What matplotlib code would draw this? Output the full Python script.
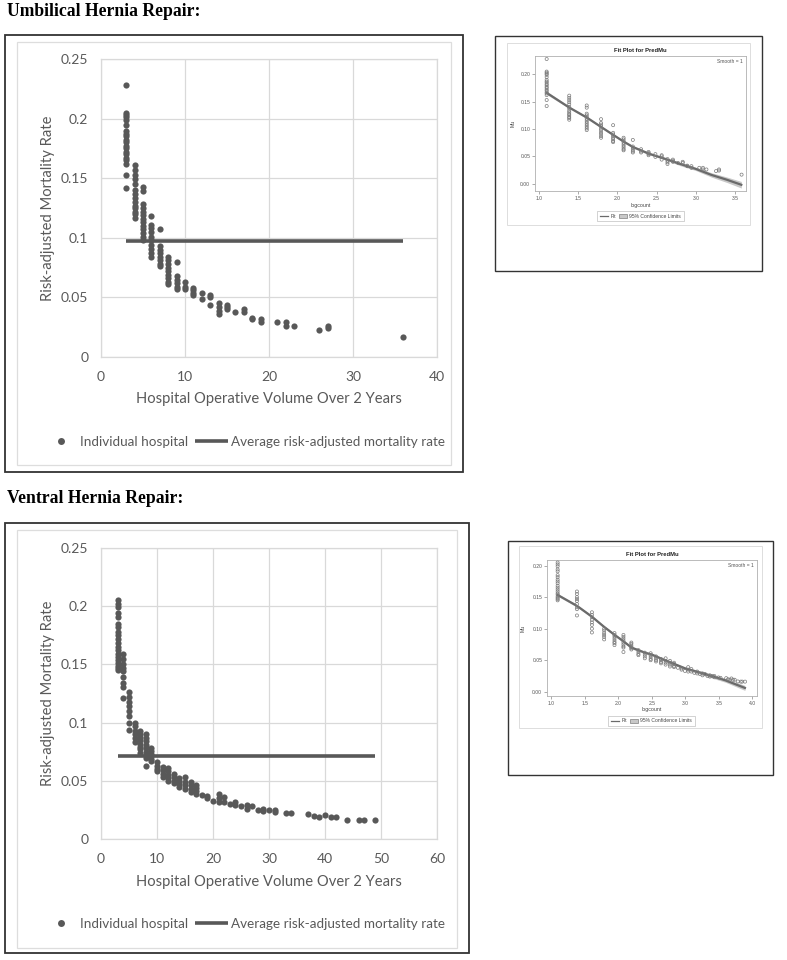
import numpy as np
import matplotlib
matplotlib.use("Agg")
import matplotlib.pyplot as plt
from matplotlib.patches import Rectangle, Patch
from matplotlib.lines import Line2D

W, H = 787, 960

# Umbilical hernia repair: hospital volume -> risk-adjusted mortality rates
umb_volumes = [3, 4, 5, 6, 7, 8, 9, 10, 11, 12, 13, 14, 15, 16, 17, 18, 19, 21, 22, 23, 26, 27, 36]
umb_rates = [
    [0.228, 0.205, 0.203, 0.201, 0.199, 0.195, 0.190, 0.187, 0.185, 0.182,
     0.180, 0.177, 0.175, 0.172, 0.170, 0.167, 0.165, 0.162, 0.153, 0.142],
    [0.161, 0.157, 0.153, 0.149, 0.145, 0.140, 0.137, 0.133, 0.130, 0.127, 0.125, 0.122, 0.120, 0.117],
    [0.143, 0.139, 0.128, 0.125, 0.122, 0.119, 0.116, 0.113, 0.110, 0.107, 0.104, 0.101, 0.098],
    [0.118, 0.111, 0.108, 0.105, 0.101, 0.098, 0.094, 0.091, 0.087, 0.084],
    [0.107, 0.093, 0.090, 0.087, 0.084, 0.081, 0.078, 0.076],
    [0.084, 0.081, 0.078, 0.075, 0.072, 0.069, 0.066, 0.063, 0.061],
    [0.080, 0.068, 0.065, 0.062, 0.059, 0.057],
    [0.063, 0.059, 0.057],
    [0.058, 0.056, 0.054, 0.052],
    [0.054, 0.049],
    [0.052, 0.050, 0.044],
    [0.045, 0.042, 0.039, 0.036],
    [0.044, 0.042, 0.040],
    [0.038],
    [0.040, 0.038],
    [0.033, 0.032],
    [0.032, 0.029],
    [0.029],
    [0.029, 0.026],
    [0.026],
    [0.023],
    [0.026, 0.024],
    [0.0165],
]
umb_avg = 0.097

# Ventral hernia repair
ven_volumes = [3, 4, 5, 6, 7, 8, 9, 10, 11, 12, 13, 14, 15, 16, 17, 18, 19, 20, 21, 22,
               23, 24, 25, 26, 27, 28, 29, 30, 31, 33, 34, 37, 38, 39, 40, 41, 42, 44, 46, 47, 49]
ven_rates = [
    [0.205, 0.202, 0.199, 0.194, 0.191, 0.185, 0.182, 0.178, 0.175, 0.172,
     0.168, 0.165, 0.162, 0.159, 0.156, 0.154, 0.151, 0.149, 0.147, 0.145],
    [0.159, 0.155, 0.150, 0.147, 0.144, 0.139, 0.134, 0.131, 0.121],
    [0.126, 0.122, 0.118, 0.114, 0.110, 0.106, 0.100, 0.094],
    [0.100, 0.097, 0.093, 0.090, 0.087, 0.083],
    [0.093, 0.090, 0.088, 0.085, 0.082, 0.079, 0.077, 0.074],
    [0.090, 0.087, 0.084, 0.081, 0.078, 0.075, 0.072, 0.070, 0.063],
    [0.078, 0.076, 0.073, 0.071, 0.069, 0.067],
    [0.066, 0.063, 0.060, 0.058],
    [0.062, 0.059, 0.056, 0.053],
    [0.061, 0.058, 0.055, 0.052, 0.050],
    [0.056, 0.053, 0.050, 0.048],
    [0.052, 0.050, 0.047, 0.045],
    [0.053, 0.049, 0.046, 0.043],
    [0.049, 0.046, 0.043, 0.040],
    [0.046, 0.044, 0.041, 0.039],
    [0.038],
    [0.037, 0.035],
    [0.033],
    [0.039, 0.035, 0.032],
    [0.036, 0.032],
    [0.030],
    [0.032, 0.029],
    [0.028],
    [0.029, 0.026],
    [0.028],
    [0.025],
    [0.026, 0.024],
    [0.025],
    [0.025, 0.023],
    [0.0226],
    [0.022],
    [0.0215],
    [0.0197],
    [0.019],
    [0.021],
    [0.019],
    [0.019],
    [0.0163],
    [0.016],
    [0.016],
    [0.016],
]
ven_avg = 0.071

# SAS fit curves (logcount vs predicted Mu)
umb_fit_x = [1.10, 1.39, 1.61, 1.79, 1.95, 2.08, 2.20, 2.40, 2.64, 2.80, 3.00, 3.20, 3.40, 3.58]
umb_fit_y = [0.166, 0.139, 0.121, 0.104, 0.089, 0.077, 0.067, 0.055, 0.044, 0.036, 0.027, 0.016, 0.007, -0.002]
umb_ci_w = [0.003, 0.002, 0.002, 0.002, 0.002, 0.002, 0.002, 0.002, 0.002, 0.003, 0.003, 0.004, 0.005, 0.006]
ven_fit_x = [1.10, 1.39, 1.61, 1.79, 1.95, 2.08, 2.20, 2.40, 2.50, 2.70, 3.00, 3.30, 3.60, 3.89]
ven_fit_y = [0.1535, 0.136, 0.119, 0.103, 0.090, 0.080, 0.070, 0.062, 0.059, 0.050, 0.037, 0.028, 0.018, 0.006]
ven_ci_w = [0.002, 0.002, 0.002, 0.002, 0.002, 0.002, 0.002, 0.002, 0.002, 0.002, 0.002, 0.003, 0.003, 0.004]

DOT = '#585858'
GRID = '#d9d9d9'
TXT = '#595959'
XL_FONT = 'Lato'
SAS_FONT = 'Liberation Sans'


def rect(l, t, r, b):
    return [l / W, 1 - b / H, (r - l) / W, (b - t) / H]


def box(fig, l, t, r, b, color, lw):
    fig.add_artist(Rectangle((l / W, 1 - b / H), (r - l) / W, (b - t) / H,
                             transform=fig.transFigure, fill=False,
                             edgecolor=color, linewidth=lw))


def flatten(volumes, rates):
    xs = np.concatenate([[v] * len(rs) for v, rs in zip(volumes, rates)])
    ys = np.concatenate(rates)
    return xs.astype(float), ys


def excel_chart(fig, plot_px, volumes, rates, avg, xmax, xlab_y, leg_y):
    l, t, r, b = plot_px
    ax = fig.add_axes(rect(l, t, r, b))
    xs, ys = flatten(volumes, rates)
    ax.scatter(xs, ys, s=20, color=DOT, linewidths=0, zorder=3)
    ax.plot([min(volumes), max(volumes)], [avg, avg], color=DOT, lw=2.6,
            solid_capstyle='butt', zorder=2)
    ax.set_xlim(0, xmax)
    ax.set_ylim(0, 0.25)
    ax.set_xticks(np.arange(0, xmax + 1, 10))
    ax.set_yticks([0, 0.05, 0.1, 0.15, 0.2, 0.25])
    ax.set_yticklabels(['0', '0.05', '0.1', '0.15', '0.2', '0.25'])
    ax.grid(True, color=GRID, lw=0.9)
    ax.set_axisbelow(True)
    ax.tick_params(length=0, labelsize=10, labelcolor=TXT)
    ax.tick_params(axis='y', pad=9)
    ax.tick_params(axis='x', pad=10)
    for lab in ax.get_xticklabels() + ax.get_yticklabels():
        lab.set_family(XL_FONT)
    for s in ax.spines.values():
        s.set_color(GRID)
        s.set_linewidth(0.9)
    fig.text(48 / W, 1 - (t + b) / 2 / H, 'Risk-adjusted Mortality Rate', rotation=90,
             ha='center', va='center', fontsize=10.6, color=TXT, family=XL_FONT)
    fig.text((l + r) / 2 / W, 1 - xlab_y / H, 'Hospital Operative Volume Over 2 Years',
             ha='center', va='center', fontsize=10.6, color=TXT, family=XL_FONT)
    handles = [Line2D([], [], marker='o', ls='none', ms=5, color=DOT, mew=0),
               Line2D([], [], color=DOT, lw=2.6, solid_capstyle='butt')]
    fig.legend(handles, ['Individual hospital', 'Average risk-adjusted mortality rate'],
               loc='center left', bbox_to_anchor=(44 / W, 1 - leg_y / H), ncol=2,
               frameon=False, borderpad=0, borderaxespad=0, handlelength=2.5,
               handletextpad=0.2, columnspacing=0.45,
               prop={'family': XL_FONT, 'size': 9.7}, labelcolor=TXT)
    return ax


def sas_chart(fig, plot_px, volumes, rates, fit_x, fit_y, ci_w, xlim, ylim, xticks,
              title_y, xlab_y, leg_y, mu_x, leg_l, leg_r):
    l, t, r, b = plot_px
    ax = fig.add_axes(rect(l, t, r, b))
    xs, ys = flatten(volumes, rates)
    fx = np.array(fit_x)
    fy = np.array(fit_y)
    cw = np.array(ci_w)
    ax.fill_between(fx, fy - cw, fy + cw, color='#c8c8c8', lw=0, zorder=1)
    ax.plot(fx, fy, color='#6a6a6a', lw=1.6, zorder=2)
    ax.scatter(np.log(xs), ys, s=5, facecolors='none', edgecolors='#7a7a7a',
               linewidths=0.5, zorder=3)
    ax.set_xlim(*xlim)
    ax.set_ylim(*ylim)
    ax.set_xticks(xticks)
    ax.set_xticklabels(['%.1f' % v for v in xticks])
    ax.set_yticks([0, 0.05, 0.10, 0.15, 0.20])
    ax.set_yticklabels(['0.00', '0.05', '0.10', '0.15', '0.20'])
    ax.tick_params(length=2, width=0.5, color='#888888', labelsize=3.6,
                   labelcolor='#555555', pad=1.5)
    for lab in ax.get_xticklabels() + ax.get_yticklabels():
        lab.set_family(SAS_FONT)
    for s in ax.spines.values():
        s.set_color('#b0b0b0')
        s.set_linewidth(0.6)
    ax.text(0.985, 0.975, 'Smooth = 1', transform=ax.transAxes, ha='right', va='top',
            fontsize=3.6, color='#555555', family=SAS_FONT)
    fig.text((l + r) / 2 / W, 1 - title_y / H, 'Fit Plot for PredMu', ha='center',
             va='center', fontsize=4.2, fontweight='bold', color='#222222', family=SAS_FONT)
    fig.text((l + r) / 2 / W, 1 - xlab_y / H, 'logcount', ha='center', va='center',
             fontsize=3.8, color='#444444', family=SAS_FONT)
    fig.text(mu_x / W, 1 - (t + b) / 2 / H, 'Mu', rotation=90, ha='center', va='center',
             fontsize=3.8, color='#444444', family=SAS_FONT)
    box(fig, leg_l, leg_y - 5, leg_r, leg_y + 5, '#c0c0c0', 0.5)
    handles = [Line2D([], [], color='#6a6a6a', lw=0.9),
               Patch(facecolor='#c8c8c8', edgecolor='#666666', lw=0.4)]
    fig.legend(handles, ['Fit', '95% Confidence Limits'], loc='center',
               bbox_to_anchor=((leg_l + leg_r) / 2 / W, 1 - leg_y / H), ncol=2,
               frameon=False, borderpad=0, handlelength=1.6, handletextpad=0.4,
               columnspacing=0.6, prop={'family': SAS_FONT, 'size': 3.6}, labelcolor='#444444')
    return ax


fig = plt.figure(figsize=(W / 100, H / 100), dpi=100)
fig.patch.set_facecolor('white')

# section titles
fig.text(7 / W, 1 - 12 / H, 'Umbilical Hernia Repair:', ha='left', va='center',
         fontsize=12.7, fontweight='bold', family='Liberation Serif', color='black')
fig.text(7 / W, 1 - 498 / H, 'Ventral Hernia Repair:', ha='left', va='center',
         fontsize=12.7, fontweight='bold', family='Liberation Serif', color='black')

# Excel chart frames
box(fig, 5, 35, 463, 472, '#333333', 1.3)
box(fig, 17, 42, 451, 465, '#dddddd', 0.9)
box(fig, 5, 523, 469, 953, '#333333', 1.3)
box(fig, 17, 530, 457, 948, '#dddddd', 0.9)

excel_chart(fig, (101, 59, 437, 357), umb_volumes, umb_rates, umb_avg, 40, 399, 442)
excel_chart(fig, (101, 548, 437, 839), ven_volumes, ven_rates, ven_avg, 60, 882, 924)

# SAS panel frames
box(fig, 495, 36, 762, 271, '#333333', 1.0)
box(fig, 507, 43, 750, 225, '#dddddd', 0.7)
box(fig, 508, 541, 773, 775, '#333333', 1.0)
box(fig, 519, 546, 762, 728, '#dddddd', 0.7)

sas_chart(fig, (535, 56, 746, 191), umb_volumes, umb_rates, umb_fit_x, umb_fit_y, umb_ci_w,
          (0.95, 3.64), (-0.0134, 0.2335), [1.0, 1.5, 2.0, 2.5, 3.0, 3.5],
          51, 206, 216, 513, 597, 684)
sas_chart(fig, (547, 560, 757, 696), ven_volumes, ven_rates, ven_fit_x, ven_fit_y, ven_ci_w,
          (0.94, 4.07), (-0.0068, 0.209), [1.0, 1.5, 2.0, 2.5, 3.0, 3.5, 4.0],
          555, 710, 721, 523, 608, 695)

fig.savefig('out.png', dpi=100, facecolor='white')
